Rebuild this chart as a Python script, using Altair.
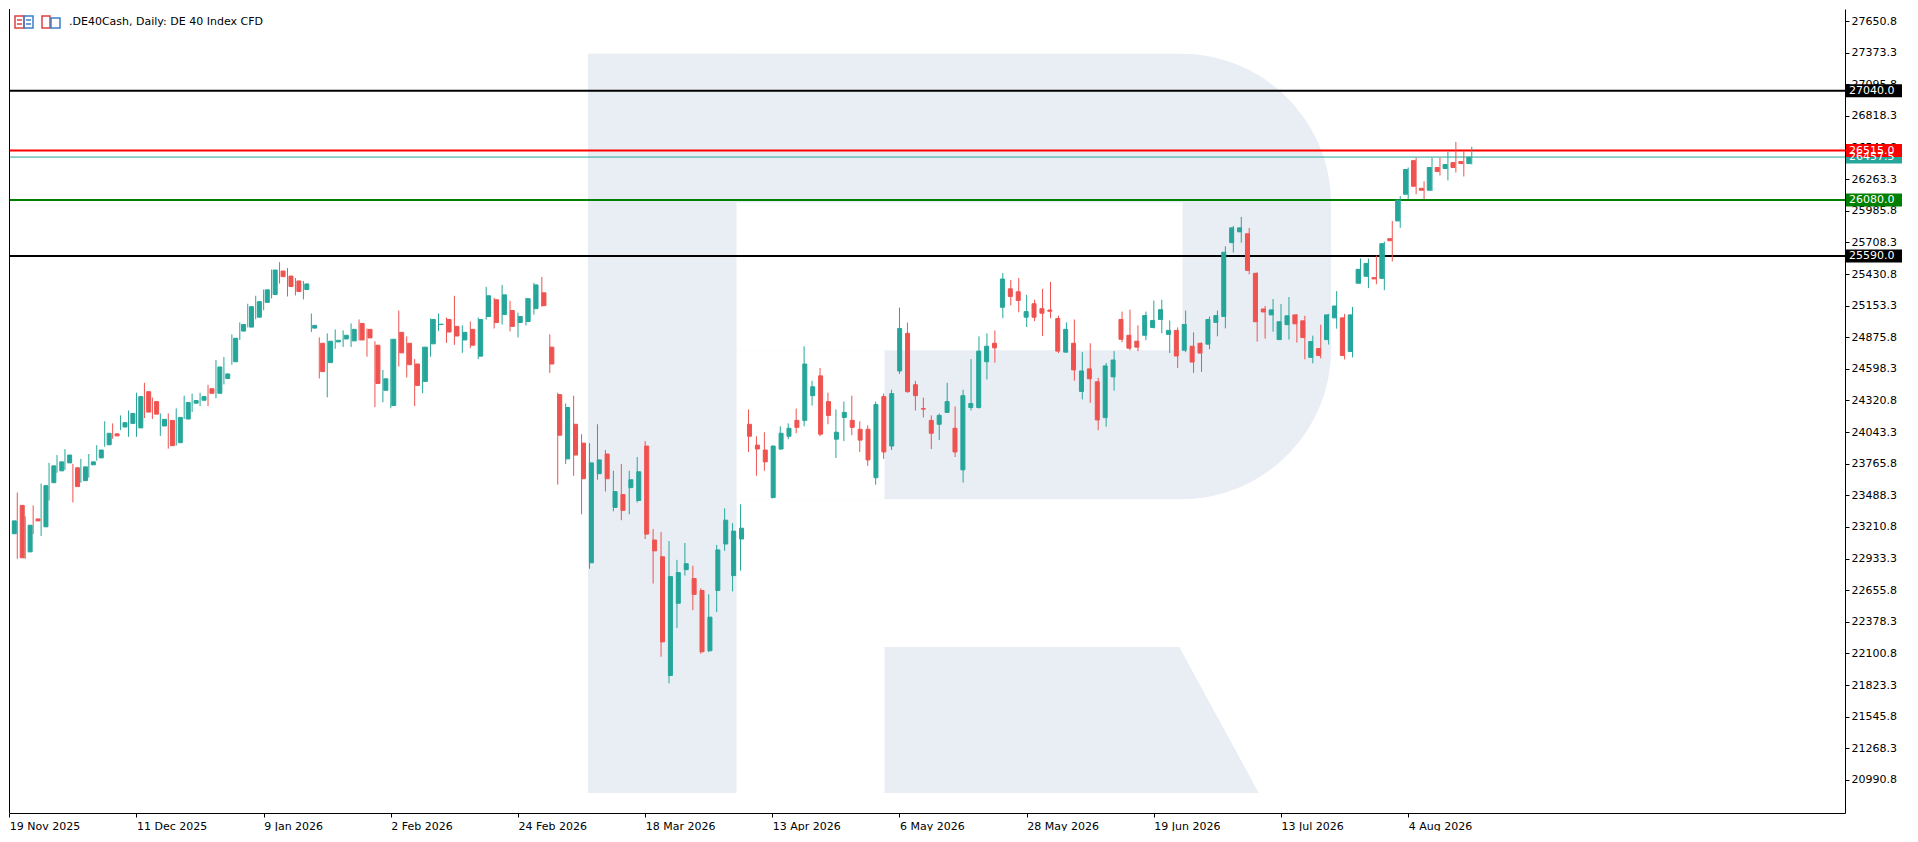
import json
import numpy as np
import pandas as pd
import altair as alt

# ---------------- data ----------------
opens = [23151, 23400, 22992, 23281, 23212, 23599, 23703, 23773, 23730, 23617,
         23756, 23817, 23932, 24028, 24088, 24120, 24080, 24398, 24311, 24097,
         24146, 23950, 24158, 24297, 24323, 24424, 24384, 24514, 24661, 24930,
         24965, 25052, 25182, 25251, 25457, 25413, 25370, 25295, 24956, 24823,
         24653, 24835, 24861, 24844, 24997, 24945, 24806, 24410, 24277, 24919,
         24823, 24641, 24488, 24818, 24988, 25032, 24971, 24852, 24945, 24710,
         25058, 25205, 25075, 25110, 25005, 25014, 25127, 25266, 24789, 24372,
         23808, 24112, 23947, 22896, 23678, 23851, 23382, 23495, 23556, 23443,
         23921, 23096, 22949, 21907, 22541, 22836, 22758, 22653, 22124, 22653,
         23061, 22784, 23105, 24112, 23929, 23886, 23469, 23895, 24007, 24146,
         24146, 24363, 24537, 24311, 23981, 24172, 24146, 24068, 24068, 23643,
         24355, 23921, 24580, 24910, 24459, 24250, 24146, 24112, 24216, 24077,
         23712, 24259, 24259, 24661, 24823, 25139, 25301, 25275, 25052, 25170,
         25127, 25115, 25040, 24745, 24823, 24400, 24598, 24485, 24170, 24528,
         25032, 24893, 24841, 24893, 24962, 25032, 24901, 24936, 24762, 24797,
         24823, 24815, 25006, 25058, 25706, 25801, 25784, 25437, 25124, 25072,
         24855, 24986, 25072, 25020, 24699, 24777, 24855, 25046, 25046, 24751,
         25350, 25411, 25399, 25393, 25741, 25897, 26131, 26426, 26183, 26166,
         26366, 26357, 26409, 26418, 26400]
highs = [23300, 23513, 23304, 23400, 23591, 23773, 23842, 23894, 23764, 23808,
         23851, 23929, 24138, 24120, 24190, 24233, 24389, 24476, 24346, 24207,
         24207, 24251, 24363, 24381, 24389, 24459, 24676, 24702, 24901, 25006,
         25170, 25240, 25295, 25470, 25535, 25483, 25396, 25370, 25084, 24875,
         24910, 24945, 24936, 24997, 25032, 24953, 24841, 24589, 24862, 25110,
         24884, 24684, 24793, 25040, 25084, 25049, 25240, 24980, 25014, 25049,
         25318, 25222, 25335, 25196, 25092, 25222, 25353, 25405, 24901, 24389,
         24294, 24363, 24025, 23947, 24112, 23886, 23704, 23764, 23704, 23825,
         23964, 23192, 23166, 23087, 22922, 23070, 22870, 22671, 22619, 23053,
         23374, 23244, 23409, 24242, 24007, 24042, 23925, 24094, 24120, 24250,
         24797, 24493, 24606, 24389, 24242, 24311, 24363, 24138, 24103, 24311,
         24381, 24415, 25136, 25005, 24493, 24346, 24190, 24207, 24476, 24268,
         24415, 24684, 24884, 24910, 24936, 25440, 25379, 25396, 25249, 25205,
         25301, 25361, 25066, 25006, 25032, 24745, 24823, 24520, 24650, 24754,
         25101, 25118, 24980, 25101, 25197, 25205, 25023, 24962, 25110, 24919,
         24830, 25058, 25110, 25674, 25853, 25932, 25836, 25446, 25150, 25211,
         25168, 25229, 25080, 25064, 24890, 24986, 25081, 25281, 25081, 25142,
         25567, 25567, 25593, 25715, 25897, 26114, 26366, 26452, 26244, 26452,
         26452, 26504, 26591, 26513, 26548]
lows = [23110, 22931, 22931, 23148, 23131, 23443, 23686, 23712, 23426, 23599,
        23643, 23793, 23915, 23984, 24060, 24002, 24002, 24167, 24158, 24010,
        23898, 23924, 24158, 24219, 24271, 24271, 24340, 24462, 24635, 24852,
        24962, 25034, 25113, 25217, 25347, 25234, 25243, 25208, 24922, 24514,
        24349, 24774, 24791, 24791, 24848, 24705, 24262, 24305, 24253, 24618,
        24522, 24271, 24384, 24705, 24930, 24826, 24809, 24739, 24780, 24684,
        25031, 24953, 24988, 24927, 24875, 24979, 25075, 25144, 24563, 23582,
        23764, 23660, 23322, 22844, 23625, 23521, 23348, 23270, 23322, 23426,
        23105, 22714, 22072, 21838, 22324, 22784, 22480, 22098, 22112, 22463,
        23001, 22645, 22827, 23869, 23660, 23704, 23461, 23886, 23981, 24033,
        24094, 24276, 24007, 24112, 23816, 23964, 24016, 23869, 23747, 23582,
        23808, 23886, 24554, 24389, 24233, 24172, 23895, 23973, 24214, 23825,
        23600, 24233, 24250, 24505, 24653, 25043, 25156, 25095, 24965, 25017,
        24887, 25043, 24737, 24742, 24494, 24330, 24300, 24060, 24090, 24407,
        24832, 24762, 24754, 24849, 24953, 24910, 24737, 24606, 24745, 24563,
        24572, 24771, 24884, 24954, 25619, 25706, 25428, 24838, 24864, 24925,
        24852, 24855, 24829, 24682, 24647, 24690, 24812, 24951, 24682, 24699,
        25347, 25307, 25341, 25289, 25541, 25836, 26088, 26131, 26088, 26160,
        26296, 26253, 26322, 26287, 26392]
closes = [23264, 22940, 23226, 23264, 23573, 23747, 23782, 23842, 23565, 23738,
          23782, 23886, 24033, 24010, 24126, 24207, 24355, 24219, 24201, 24155,
          23924, 24172, 24303, 24320, 24355, 24384, 24615, 24554, 24867, 24988,
          25144, 25188, 25292, 25466, 25408, 25321, 25277, 25344, 24980, 24574,
          24841, 24849, 24893, 24945, 24852, 24870, 24470, 24511, 24858, 24739,
          24635, 24453, 24789, 25032, 24990, 24922, 24887, 24919, 24806, 25031,
          25240, 25005, 25248, 24971, 25058, 25214, 25335, 25153, 24641, 24016,
          24259, 23842, 23634, 23773, 23799, 23634, 23521, 23356, 23625, 23695,
          23148, 23001, 22202, 22775, 22810, 22888, 22619, 22115, 22419, 23009,
          23270, 23174, 23200, 24007, 23895, 23782, 23921, 24033, 24077, 24085,
          24641, 24441, 24025, 24190, 24042, 24216, 24085, 23973, 23799, 24285,
          23869, 24381, 24953, 24398, 24363, 24245, 24033, 24190, 24311, 23869,
          24363, 24294, 24754, 24797, 24783, 25387, 25234, 25199, 25101, 25052,
          25087, 25104, 24754, 24945, 24589, 24580, 24511, 24150, 24624, 24676,
          24858, 24780, 24789, 25066, 25023, 25118, 24936, 24711, 24988, 24658,
          24737, 25032, 25066, 25622, 25836, 25836, 25463, 25012, 25098, 25116,
          25012, 25064, 24994, 24873, 24838, 24716, 25072, 25150, 24716, 25072,
          25472, 25524, 25388, 25697, 25723, 26079, 26348, 26201, 26166, 26366,
          26331, 26392, 26366, 26400, 26457.5]

# x-axis: a label every 16 trading days
x_tick_labels = ["19 Nov 2025", "11 Dec 2025", "9 Jan 2026", "2 Feb 2026",
                 "24 Feb 2026", "18 Mar 2026", "13 Apr 2026", "6 May 2026",
                 "28 May 2026", "19 Jun 2026", "13 Jul 2026", "4 Aug 2026"]
x_tick_step = 16

# y-axis tick labels
y_ticks = [20990.8, 21268.3, 21545.8, 21823.3, 22100.8, 22378.3, 22655.8,
           22933.3, 23210.8, 23488.3, 23765.8, 24043.3, 24320.8, 24598.3,
           24875.8, 25153.3, 25430.8, 25708.3, 25985.8, 26263.3, 26540.8,
           26818.3, 27095.8, 27373.3, 27650.8]

# horizontal levels
level_prices = [27040.0, 26515.0, 26080.0, 25590.0]
level_colors = ["#000000", "#FF0000", "#008000", "#000000"]
last_price = 26457.5

# price tags at the right axis (drawn in this order)
tag_prices = [27040.0, 26457.5, 26515.0, 26080.0, 25590.0]
tag_colors = ["#000000", "#26A69A", "#FF0000", "#008000", "#000000"]

title_text = ".DE40Cash, Daily:  DE 40 Index CFD"

# ---------------- layout ----------------
W, H = 1836, 804
X_DOM = [-0.04, 230.96]
Y_DOM = [20700, 27757]
UP, DOWN = "#26A69A", "#EF5350"
WM = "#E9EEF5"
FONT = "DejaVu Sans"

n = len(opens)
df = pd.DataFrame({"i": np.arange(n), "open": opens, "high": highs,
                   "low": lows, "close": closes})
df["dir"] = np.where(df["close"] >= df["open"], "up", "down")

xs = alt.Scale(domain=X_DOM, nice=False, zero=False)
ys = alt.Scale(domain=Y_DOM, nice=False, zero=False)
cs = alt.Scale(domain=["up", "down"], range=[UP, DOWN])

label_expr = f"{json.dumps(x_tick_labels)}[round(datum.value / {x_tick_step})]"
x_axis = alt.Axis(values=[k * x_tick_step for k in range(len(x_tick_labels))],
                  labelExpr=label_expr, labelAlign="left", labelPadding=3,
                  tickSize=4, tickColor="black", domainColor="black",
                  labelColor="black", labelFont=FONT, labelFontSize=11,
                  grid=False, title=None, labelOverlap=False, labelFlush=False)
y_axis = alt.Axis(orient="right", values=y_ticks, format=".1f", tickSize=4,
                  tickColor="black", domainColor="black", labelColor="black",
                  labelFont=FONT, labelFontSize=11, labelPadding=2, grid=False,
                  title=None, labelOverlap=False, labelFlush=False,
                  labelSeparation=0)

# ---------------- watermark ("R" logo) in data space ----------------
stem = pd.DataFrame({"x": [72.8], "x2": [91.5], "y": [20876], "y2": [27364]})
bowl = pd.DataFrame({"x": [72.8], "x2": [166.3], "y": [23454], "y2": [27364]})
holes = pd.DataFrame({"x": [91.5, 91.5], "x2": [147.6, 110.1],
                      "y": [24762, 23454], "y2": [26058, 24762]})
leg = pd.DataFrame({"p": [22158, 20876], "x": [110.1, 110.1],
                    "x2": [147.2, 157.2]})


def rect_layer(d, color, **kw):
    return alt.Chart(d).mark_rect(color=color, **kw).encode(
        x=alt.X("x:Q", scale=xs, axis=None), x2="x2:Q",
        y=alt.Y("y:Q", scale=ys, axis=None), y2="y2:Q")


wm_bowl = rect_layer(bowl, WM, cornerRadiusTopRight=150,
                     cornerRadiusBottomRight=150)
wm_stem = rect_layer(stem, WM)
wm_holes = rect_layer(holes, "#FFFFFF")
wm_leg = alt.Chart(leg).mark_area(orient="horizontal", color=WM).encode(
    y=alt.Y("p:Q", scale=ys, axis=None),
    x=alt.X("x:Q", scale=xs, axis=None), x2="x2:Q")

# ---------------- levels ----------------
lv = pd.DataFrame({"p": level_prices, "c": level_colors})
levels = alt.Chart(lv).mark_rule(strokeWidth=2).encode(
    y=alt.Y("p:Q", scale=ys, axis=None), color=alt.Color("c:N", scale=None))
last_line = alt.Chart(pd.DataFrame({"p": [last_price]})).mark_rule(
    strokeWidth=1, color=UP).encode(y=alt.Y("p:Q", scale=ys, axis=None))

# ---------------- candles ----------------
base = alt.Chart(df)
wicks = base.mark_rule(strokeWidth=1, clip=True).encode(
    x=alt.X("i:Q", scale=xs, axis=x_axis),
    y=alt.Y("low:Q", scale=ys, axis=y_axis), y2="high:Q",
    color=alt.Color("dir:N", scale=cs, legend=None))
bodies = base.mark_bar(size=4, strokeWidth=1, clip=True).encode(
    x=alt.X("i:Q", scale=xs, axis=None),
    y=alt.Y("open:Q", scale=ys, axis=None), y2="close:Q",
    color=alt.Color("dir:N", scale=cs, legend=None),
    stroke=alt.Stroke("dir:N", scale=cs, legend=None))

# ---------------- price tags ----------------
half = 6.5 * (Y_DOM[1] - Y_DOM[0]) / H
tg = pd.DataFrame({"p": tag_prices, "c": tag_colors})
tg["top"] = tg["p"] + half
tg["bot"] = tg["p"] - half
tg["lab"] = tg["p"].map(lambda v: f"{v:.1f}")
tag_rect = alt.Chart(tg).mark_rect().encode(
    x=alt.value(W + 1), x2=alt.value(W + 57),
    y=alt.Y("top:Q", scale=ys, axis=None), y2="bot:Q",
    color=alt.Color("c:N", scale=None))
tag_text = alt.Chart(tg).mark_text(align="left", baseline="middle",
                                   font=FONT, fontSize=11, color="white").encode(
    x=alt.value(W + 4), y=alt.Y("p:Q", scale=ys, axis=None), text="lab:N")

# ---------------- title, toolbar icons & frame ----------------
title = alt.Chart(pd.DataFrame({"t": [title_text]})).mark_text(
    align="left", baseline="middle", font=FONT, fontSize=11,
    color="black").encode(x=alt.value(60), y=alt.value(13), text="t:N")

icons = pd.DataFrame({
    "x": [6, 15, 33, 42],
    "x2": [15, 24, 41, 51],
    "y": [7, 7, 7, 9],
    "y2": [19, 19, 19, 19],
    "c": ["#E04040", "#3A7FC8", "#E04040", "#3A7FC8"],
})
icon_layer = alt.Chart(icons).mark_rect(fillOpacity=0, strokeWidth=1.5).encode(
    x=alt.X("x:Q", scale=None, axis=None), x2="x2:Q",
    y=alt.Y("y:Q", scale=None, axis=None), y2="y2:Q",
    stroke=alt.Stroke("c:N", scale=None))
icon_lines = pd.DataFrame({
    "x": [8, 8, 17, 17], "x2": [13, 13, 22, 22],
    "y": [11, 15, 11, 15],
    "c": ["#E04040", "#E04040", "#3A7FC8", "#3A7FC8"],
})
icon_line_layer = alt.Chart(icon_lines).mark_rule(strokeWidth=1.5).encode(
    x=alt.X("x:Q", scale=None, axis=None), x2="x2:Q",
    y=alt.Y("y:Q", scale=None, axis=None),
    color=alt.Color("c:N", scale=None))

left_border = alt.Chart(pd.DataFrame({"a": [0]})).mark_rule(
    color="black", strokeWidth=1).encode(
    x=alt.value(0.5), y=alt.value(0), y2=alt.value(H))

chart = alt.layer(
    wm_bowl, wm_stem, wm_holes, wm_leg,
    levels, last_line, wicks, bodies,
    tag_rect, tag_text, title, icon_layer, icon_line_layer, left_border
).resolve_scale(
    x="independent", y="independent"
).properties(
    width=W, height=H, padding=0, background="white"
).configure_view(stroke=None).configure_axis(labelOverlap=False)

chart.save("out.html", embed_options={"renderer": "svg", "actions": False})
